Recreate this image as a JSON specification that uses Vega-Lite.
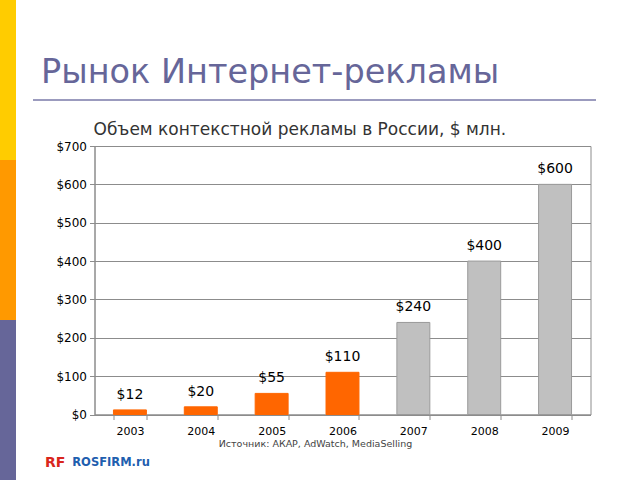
{
  "$schema": "https://vega.github.io/schema/vega-lite/v6.json",
  "padding": 0,
  "background": "white",
  "config": {"font": "DejaVu Sans"},
  "title": {"text": "RF", "orient": "bottom", "anchor": "start", "frame": "bounds", "offset": -13, "dx": 45, "baseline": "alphabetic", "fontSize": 14, "fontWeight": "bold", "color": "#D9261C", "font": "DejaVu Sans"},
  "spacing": 16,
  "resolve": {"scale": {"color": "independent", "stroke": "independent"}},
  "hconcat": [
    {
      "width": 16,
      "height": 480,
      "view": {"stroke": null},
      "data": {"values": [
        {"band": "1", "from": 0, "to": 1},
        {"band": "2", "from": 1, "to": 2},
        {"band": "3", "from": 2, "to": 3}
      ]},
      "mark": {"type": "rect"},
      "encoding": {
        "y": {"field": "from", "type": "quantitative", "scale": {"domain": [0, 3], "reverse": true, "nice": false}, "axis": null},
        "y2": {"field": "to"},
        "color": {"field": "band", "type": "nominal", "scale": {"domain": ["1", "2", "3"], "range": ["#FFCC00", "#FF9900", "#666699"]}, "legend": null}
      }
    },
    {
      "spacing": 19,
      "title": {"text": "ROSFIRM.ru", "orient": "bottom", "anchor": "start", "frame": "bounds", "baseline": "alphabetic", "offset": 17, "dx": 40, "fontSize": 11.5, "fontWeight": "bold", "color": "#1F5FAF", "font": "DejaVu Sans"},
      "resolve": {"scale": {"color": "independent", "stroke": "independent"}},
      "vconcat": [
        {
          "width": 563,
          "height": 100,
          "view": {"stroke": null},
          "title": {"text": "Рынок Интернет-рекламы", "orient": "bottom", "anchor": "start", "frame": "group", "baseline": "alphabetic", "offset": -18, "dx": 8, "fontSize": 33.5, "fontWeight": "normal", "color": "#666699", "font": "DejaVu Sans"},
          "data": {"values": [{"v": 0}]},
          "mark": {"type": "rule", "color": "#7a7aa8", "strokeWidth": 1.5},
          "encoding": {
            "y": {"field": "v", "type": "quantitative", "scale": {"domain": [0, 1]}, "axis": null}
          }
        },
        {
          "spacing": 20.5,
          "resolve": {"scale": {"color": "independent", "stroke": "independent"}},
          "hconcat": [
            {
              "width": 1,
              "height": 1,
              "view": {"stroke": null},
              "data": {"values": []},
              "mark": {"type": "rule"},
              "encoding": {}
            },
            {
              "width": 496,
              "height": 268.5,
              "view": {"stroke": "#8c8c8c"},
              "title": {"text": "Объем контекстной рекламы в России, $ млн.", "orient": "top", "anchor": "start", "frame": "group", "baseline": "alphabetic", "offset": -12, "dx": -1, "fontSize": 17, "fontWeight": "normal", "color": "#333333", "font": "DejaVu Sans"},
              "data": {"values": [
                {"year": "2003", "value": 12, "phase": "fact"},
                {"year": "2004", "value": 20, "phase": "fact"},
                {"year": "2005", "value": 55, "phase": "fact"},
                {"year": "2006", "value": 110, "phase": "fact"},
                {"year": "2007", "value": 240, "phase": "forecast"},
                {"year": "2008", "value": 400, "phase": "forecast"},
                {"year": "2009", "value": 600, "phase": "forecast"}
              ]},
              "encoding": {
                "x": {
                  "field": "year", "type": "ordinal",
                  "scale": {"paddingInner": 0.535, "paddingOuter": 0.2675},
                  "axis": {
                    "labelAngle": 0, "tickBand": "extent", "tickSize": 5, "tickColor": "#8c8c8c", "domainColor": "#8c8c8c",
                    "labelFontSize": 11, "labelColor": "#000000", "labelPadding": 6, "grid": false,
                    "title": "Источник: АКАР, AdWatch, MediaSelling", "titleFontSize": 9.5, "titleFontWeight": "normal",
                    "titleColor": "#444444", "titlePadding": 2, "titleX": 220.5, "titleAlign": "center"
                  }
                },
                "y": {
                  "field": "value", "type": "quantitative",
                  "scale": {"domain": [0, 700], "nice": false},
                  "axis": {
                    "values": [0, 100, 200, 300, 400, 500, 600, 700], "format": "$d",
                    "tickSize": 5, "tickColor": "#8c8c8c", "domainColor": "#8c8c8c", "gridColor": "#8c8c8c", "gridOpacity": 1,
                    "labelFontSize": 12, "labelColor": "#000000", "labelPadding": 3,
                    "title": null
                  }
                }
              },
              "layer": [
                {
                  "mark": {"type": "bar", "strokeWidth": 1},
                  "encoding": {
                    "color": {"field": "phase", "type": "nominal", "scale": {"domain": ["fact", "forecast"], "range": ["#FF6600", "#C0C0C0"]}, "legend": null},
                    "stroke": {"field": "phase", "type": "nominal", "scale": {"domain": ["fact", "forecast"], "range": ["#FF6600", "#9a9a9a"]}, "legend": null}
                  }
                },
                {
                  "mark": {"type": "text", "baseline": "alphabetic", "dy": -11, "fontSize": 14, "color": "#000000"},
                  "encoding": {
                    "text": {"field": "value", "type": "quantitative", "format": "$d"}
                  }
                }
              ]
            }
          ]
        }
      ]
    }
  ]
}
